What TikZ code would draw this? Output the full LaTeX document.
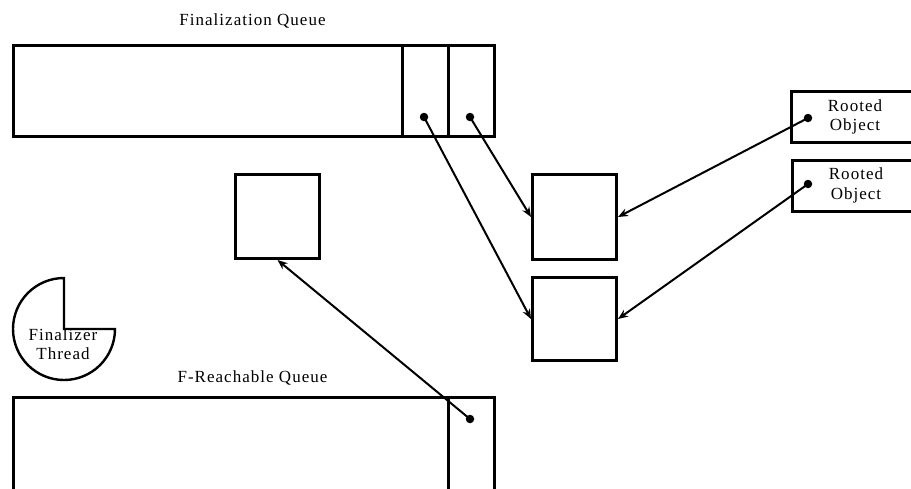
\documentclass[tikz,border=0pt]{standalone}
\usepackage{fontspec}
\setmainfont[LetterSpace=6]{Liberation Serif}
\usetikzlibrary{arrows.meta}
\begin{document}
\begin{tikzpicture}[x=1pt,y=-1pt,
  box/.style={draw,line width=3pt,rectangle,inner sep=0pt,anchor=north west},
  lbl/.style={anchor=base,inner sep=0pt,font=\fontsize{17}{20}\selectfont},
  conn/.style={line width=2pt,-{Stealth[length=10pt,width=8pt]}},
  dot/.style={fill,circle,inner sep=0pt,minimum size=8.5pt}]
\useasboundingbox (0,0) rectangle (911,488);
\clip (0,0) rectangle (911,488);
% Finalization queue
\node[lbl] (fqlbl) at (252.5,25) {Finalization Queue};
\node[box,minimum width=481pt,minimum height=91pt] (fq) at (12,44) {};
\node[box,minimum width=46pt,minimum height=91pt] (c1) at (401,44) {};
\node[box,minimum width=46pt,minimum height=91pt] (c2) at (447,44) {};
\node[dot] (d1) at (424,117) {};
\node[dot] (d2) at (470,117) {};
% Objects
\node[box,minimum width=84pt,minimum height=84pt] (L) at (234,173) {};
\node[box,minimum width=84pt,minimum height=85pt] (A) at (531,173) {};
\node[box,minimum width=84pt,minimum height=83pt] (B) at (531,276) {};
% Rooted objects
\node[box,minimum width=140pt,minimum height=51pt] (R1) at (790,90) {};
\node[box,minimum width=140pt,minimum height=51pt] (R2) at (791,159) {};
\node[lbl] (r1a) at (855,111) {Rooted};
\node[lbl] (r1b) at (855,130) {Object};
\node[lbl] (r2a) at (856,179) {Rooted};
\node[lbl] (r2b) at (856,199) {Object};
\node[dot] (rd1) at (808,118) {};
\node[dot] (rd2) at (808,184) {};
% F-reachable queue
\node[lbl] (frlbl) at (252.5,382) {F-Reachable Queue};
\node[box,minimum width=481pt,minimum height=110pt] (frq) at (12,396) {};
\node[box,minimum width=46pt,minimum height=110pt] (fc) at (447,396) {};
\node[dot] (fd) at (470,419) {};
% Finalizer thread
\coordinate (pc) at (64,329);
\draw[line width=2.4pt] (pc) -- ++(51,0) arc[start angle=0,end angle=270,radius=51] -- cycle;
\node[lbl] (ft1) at (63,340) {Finalizer};
\node[lbl] (ft2) at (63,359) {Thread};
% Connectors
\draw[conn] (d2.center) -- (A.west);
\draw[conn] (d1.center) -- (B.west);
\draw[conn] (rd1.center) -- (A.east);
\draw[conn] (rd2.center) -- (B.east);
\draw[conn] (fd.center) -- (L.south);
\end{tikzpicture}
\end{document}
